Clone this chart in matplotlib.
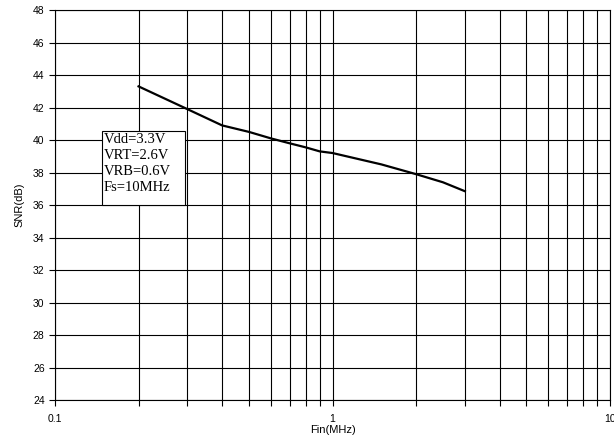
import numpy as np
import matplotlib.pyplot as plt
from matplotlib.patches import Rectangle
from matplotlib.ticker import FixedLocator, NullFormatter

# SNR vs input frequency
fin = [0.2, 0.3, 0.4, 0.5, 0.6, 0.7, 0.8, 0.9, 1.0, 1.5, 2.0, 2.5, 3.0]
snr = [43.3, 41.9, 40.9, 40.5, 40.1, 39.8, 39.55, 39.3, 39.2, 38.5, 37.9, 37.4, 36.85]

x_ticks = [0.1, 1, 10]
x_ticklabels = ["0.1", "1", "10"]
y_ticks = list(range(24, 49, 2))
note = "Vdd=3.3V\nVRT=2.6V\nVRB=0.6V\nFs=10MHz"

plt.rcParams['font.family'] = ['Liberation Sans', 'DejaVu Sans']

fig = plt.figure(figsize=(6.14, 4.45), dpi=100)
ax = fig.add_axes([0.0896, 0.101, 0.9039, 0.8765])

ax.plot(fin, snr, color='black', linewidth=1.6, zorder=3)

ax.set_xscale('log')
ax.set_xlim(0.1, 10)
ax.set_ylim(24, 48)
ax.set_yticks(y_ticks)
ax.set_xticks(x_ticks)
ax.set_xticklabels(x_ticklabels)
minors = [m * d for d in (0.1, 1) for m in range(2, 10)]
ax.xaxis.set_minor_locator(FixedLocator(minors))
ax.xaxis.set_minor_formatter(NullFormatter())

ax.grid(True, which='both', color='black', linewidth=0.8)
ax.tick_params(axis='both', which='both', direction='out', length=4, width=0.8,
               labelsize=7.5, colors='black')
ax.tick_params(axis='x', pad=6)
for s in ax.spines.values():
    s.set_linewidth(0.8)

ax.set_xlabel("Fin(MHz)", fontsize=8, labelpad=1)
ax.set_ylabel("SNR(dB)", fontsize=8, labelpad=6)

# parameter box
ax.add_patch(Rectangle((0.0841, 0.50), 0.150, 0.190, transform=ax.transAxes,
                       facecolor='white', edgecolor='black', linewidth=0.8, zorder=4))
ax.text(0.088, 0.685, note, transform=ax.transAxes, fontsize=10.5,
        family=['Liberation Serif', 'DejaVu Serif'], linespacing=1.32,
        va='top', ha='left', zorder=5)

fig.savefig("out.png", dpi=100)
